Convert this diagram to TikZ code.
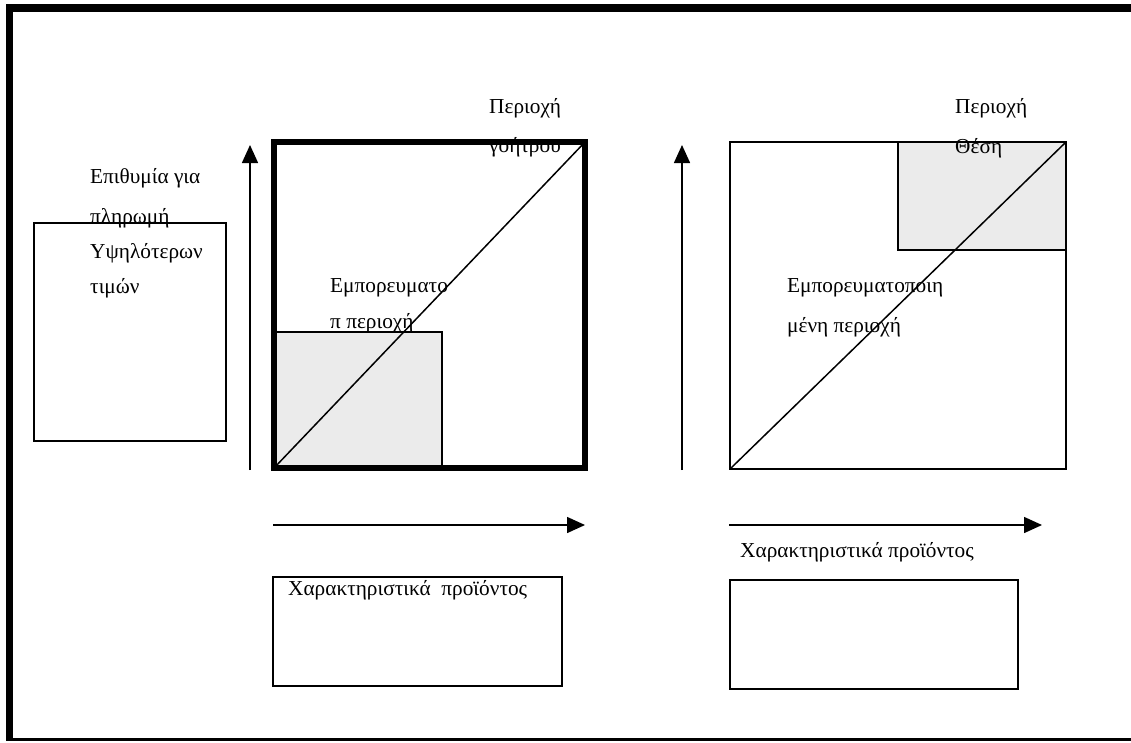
\documentclass[tikz,border=0pt]{standalone}
\usepackage{fontspec}
\setmainfont{Liberation Serif}
\usetikzlibrary{arrows.meta}

\tikzset{
    box/.style={draw, line width=2pt, inner sep=0pt, outer sep=0pt, anchor=north west},
    thickbox/.style={box, line width=6pt},
    shaded/.style={box, line width=1.5pt, fill=black!8},
    lbl/.style={anchor=west, inner sep=0pt, font=\fontsize{21.3}{25}\selectfont},
    axis/.style={line width=1.5pt, -{Triangle[length=18pt,width=16pt]}},
}

\begin{document}
\begin{tikzpicture}[x=1pt, y=-1pt]

\def\ytop{145}
\def\ybot{470}
\def\haxis{525}

\useasboundingbox (0,0) rectangle (1131,742);

% outer frame
\fill (6,4) rectangle (1131,12);
\fill (6,4) rectangle (13,741);
\fill (6,738) rectangle (1131,741);

% left box
\node[lbl] (wish1) at (90,178) {Επιθυμία για};
\node[lbl] (wish2) at (90,218) {πληρωμή};
\node[lbl] (wish3) at (90,253) {Υψηλότερων};
\node[lbl] (wish4) at (90,288) {τιμών};
\node[box, minimum width=192pt, minimum height=218pt] (wish) at (34,223) {};

% first panel
\node[shaded, minimum width=168pt, minimum height=135pt] (mkt1) at (274,332) {};
\node[lbl] (area1a) at (489,108) {Περιοχή};
\node[lbl] (area1b) at (489,147) {γοήτρου};
\node[lbl] (mkt1a) at (330,288) {Εμπορευματο};
\node[lbl] (mkt1b) at (330,323) {π περιοχή};
\node[thickbox, minimum width=311pt, minimum height=326pt] (prest) at (274,142) {};
\draw[line width=1.5pt] (prest.south west) -- (prest.north east);

\coordinate (v1s) at (250,\ybot);
\coordinate (v1e) at (250,\ytop);
\draw[axis] (v1s) -- (v1e);
\coordinate (h1s) at (273,\haxis);
\coordinate (h1e) at (585,\haxis);
\draw[axis] (h1s) -- (h1e);

\node[lbl] (feat1) at (288,590) {Χαρακτηριστικά\ \ προϊόντος};
\node[box, minimum width=289pt, minimum height=109pt] (featbox1) at (273,577) {};

% second panel
\node[shaded, minimum width=168pt, minimum height=108pt] (pos) at (898,142) {};
\node[box, minimum width=336pt, minimum height=327pt] (mkt2) at (730,142) {};
\draw[line width=1.5pt] (mkt2.south west) -- (mkt2.north east);
\node[lbl] (area2a) at (955,108) {Περιοχή};
\node[lbl] (area2b) at (955,148) {Θέση};
\node[lbl] (mkt2a) at (787,288) {Εμπορευματοποιη};
\node[lbl] (mkt2b) at (787,327) {μένη περιοχή};

\coordinate (v2s) at (682,\ybot);
\coordinate (v2e) at (682,\ytop);
\draw[axis] (v2s) -- (v2e);
\coordinate (h2s) at (729,\haxis);
\coordinate (h2e) at (1042,\haxis);
\draw[axis] (h2s) -- (h2e);

\node[lbl] (feat2) at (740,552) {Χαρακτηριστικά προϊόντος};
\node[box, minimum width=288pt, minimum height=109pt] (featbox2) at (730,580) {};

\end{tikzpicture}
\end{document}
